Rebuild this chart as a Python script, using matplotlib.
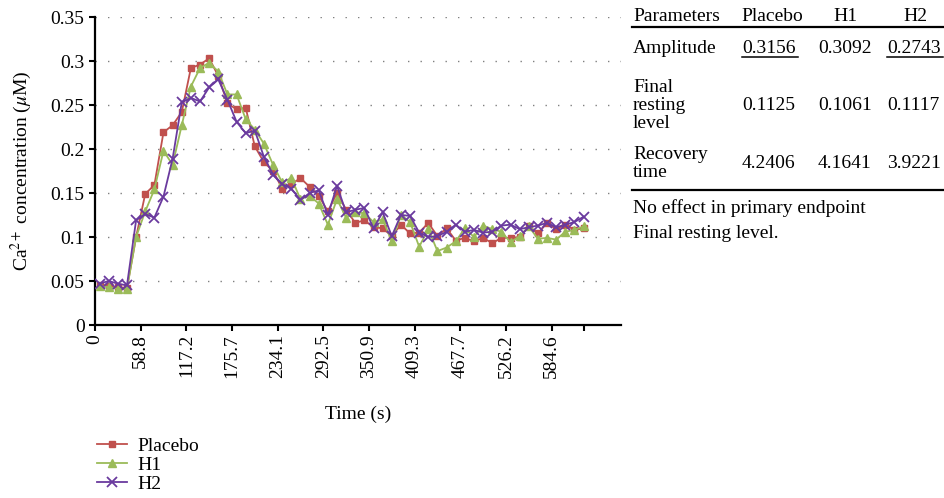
import numpy as np
import matplotlib
matplotlib.use("Agg")
import matplotlib.pyplot as plt
from matplotlib.lines import Line2D

plt.rcParams['font.family'] = ['Liberation Serif', 'DejaVu Serif']
plt.rcParams['mathtext.fontset'] = 'stix'

# ---------------- data ----------------
placebo = [0.046, 0.044, 0.043, 0.042, 0.100, 0.149, 0.159, 0.219, 0.227, 0.242,
           0.292, 0.296, 0.303, 0.283, 0.252, 0.245, 0.247, 0.203, 0.185, 0.175,
           0.155, 0.160, 0.167, 0.157, 0.147, 0.129, 0.150, 0.131, 0.116, 0.119,
           0.111, 0.110, 0.101, 0.114, 0.104, 0.105, 0.116, 0.101, 0.110, 0.096,
           0.099, 0.095, 0.099, 0.093, 0.099, 0.099, 0.100, 0.112, 0.104, 0.116,
           0.109, 0.114, 0.108, 0.110]
h1 = [0.044, 0.043, 0.041, 0.041, 0.100, 0.129, 0.154, 0.198, 0.182, 0.227,
      0.271, 0.292, 0.298, 0.288, 0.262, 0.262, 0.234, 0.222, 0.206, 0.182,
      0.162, 0.167, 0.143, 0.147, 0.138, 0.114, 0.143, 0.122, 0.128, 0.127,
      0.117, 0.120, 0.095, 0.125, 0.117, 0.089, 0.109, 0.084, 0.088, 0.095,
      0.110, 0.100, 0.113, 0.109, 0.106, 0.094, 0.101, 0.112, 0.098, 0.099,
      0.097, 0.106, 0.108, 0.112]
h2 = [0.047, 0.050, 0.047, 0.045, 0.119, 0.126, 0.122, 0.146, 0.189, 0.253,
      0.258, 0.254, 0.270, 0.279, 0.256, 0.231, 0.218, 0.221, 0.191, 0.171,
      0.160, 0.155, 0.142, 0.150, 0.153, 0.125, 0.158, 0.128, 0.131, 0.133,
      0.110, 0.128, 0.101, 0.125, 0.124, 0.105, 0.100, 0.101, 0.106, 0.114,
      0.106, 0.108, 0.105, 0.106, 0.113, 0.114, 0.109, 0.111, 0.113, 0.116,
      0.111, 0.114, 0.117, 0.123]
time_labels = ["0", "58.8", "117.2", "175.7", "234.1", "292.5", "350.9",
               "409.3", "467.7", "526.2", "584.6"]
series_names = ["Placebo", "H1", "H2"]
colors = ["#C0504D", "#9BBB59", "#6A3A9E"]

table_header = ["Parameters", "Placebo", "H1", "H2"]
amplitude = ["0.3156", "0.3092", "0.2743"]
final_rest = ["0.1125", "0.1061", "0.1117"]
recovery = ["4.2406", "4.1641", "3.9221"]
note_lines = ["No effect in primary endpoint", "Final resting level."]

# ---------------- figure ----------------
W, H = 945, 498
fig = plt.figure(figsize=(W / 100, H / 100), dpi=100)
FS = 14

def fx(x):
    return x / W

def fy(y):
    return 1 - y / H

ax = fig.add_axes([fx(95), fy(325), (621 - 95) / W, (325 - 17) / H])

idx = np.arange(len(placebo))
ax.plot(idx, placebo, color=colors[0], lw=1.3, marker='s', ms=4.0,
        mec=colors[0], mfc=colors[0], label=series_names[0], zorder=3)
ax.plot(idx, h1, color=colors[1], lw=1.3, marker='^', ms=6.2,
        mec=colors[1], mfc=colors[1], label=series_names[1], zorder=4)
ax.plot(idx, h2, color=colors[2], lw=1.3, marker='x', ms=6.5, mew=1.3,
        label=series_names[2], zorder=5)

ax.set_xlim(-0.5, 57.1)
ax.set_ylim(0, 0.35)
ax.set_yticks(np.arange(0, 0.351, 0.05))
ax.set_yticklabels(["0", "0.05", "0.1", "0.15", "0.2", "0.25", "0.3", "0.35"])
ticks = [5 * k - 0.5 for k in range(len(time_labels))]
ax.set_xticks(ticks)
ax.set_xticklabels(time_labels, rotation=90)
ax.set_xticks([len(placebo) - 1], minor=True)
ax.tick_params(axis='x', which='minor', length=4.5, width=1.5, direction='out')

for y in np.arange(0.05, 0.351, 0.05):
    ax.axhline(y, color='#808080', lw=1.0, ls=(0, (1, 8)), zorder=1)

for s in ['top', 'right']:
    ax.spines[s].set_visible(False)
for s in ['left', 'bottom']:
    ax.spines[s].set_linewidth(1.6)
ax.tick_params(axis='both', which='major', length=4.5, width=1.5,
               direction='out', labelsize=FS, pad=3)
ax.tick_params(axis='x', pad=2)

ax.set_xlabel("Time (s)", fontsize=FS, labelpad=20)
ax.set_ylabel("Ca$^{2+}$ concentration ($\\mu$M)", fontsize=FS, labelpad=12)

fig.legend(loc='upper left', bbox_to_anchor=(fx(97), fy(437)), frameon=False,
           fontsize=FS, handlelength=1.55, handletextpad=0.55,
           labelspacing=0.07, borderpad=0, borderaxespad=0)

# ---------------- table ----------------
col_c = [772, 845.5, 915]
col_l = [742, 818, 887]
fig.text(fx(633), fy(21), table_header[0], fontsize=FS, ha='left', va='baseline')
for c, t in zip(col_c, table_header[1:]):
    fig.text(fx(c), fy(21), t, fontsize=FS, ha='center', va='baseline')
fig.add_artist(Line2D([fx(632), fx(945)], [fy(27.5), fy(27.5)], color='black', lw=1.6))

fig.text(fx(633), fy(53), "Amplitude", fontsize=FS, ha='left', va='baseline')
for c, t in zip(col_l, amplitude):
    fig.text(fx(c), fy(53), t, fontsize=FS, ha='left', va='baseline')
for i in (0, 2):
    fig.add_artist(Line2D([fx(col_l[i]), fx(col_l[i] + 56)], [fy(57.5), fy(57.5)],
                          color='black', lw=1.1))

for yy, t in zip([91.5, 109.5, 127.5], ["Final", "resting", "level"]):
    fig.text(fx(633), fy(yy), t, fontsize=FS, ha='left', va='baseline')
for c, t in zip(col_l, final_rest):
    fig.text(fx(c), fy(109.5), t, fontsize=FS, ha='left', va='baseline')

for yy, t in zip([159, 177], ["Recovery", "time"]):
    fig.text(fx(633), fy(yy), t, fontsize=FS, ha='left', va='baseline')
for c, t in zip(col_l, recovery):
    fig.text(fx(c), fy(168), t, fontsize=FS, ha='left', va='baseline')
fig.add_artist(Line2D([fx(632), fx(945)], [fy(190), fy(190)], color='black', lw=1.6))

for yy, t in zip([213, 238], note_lines):
    fig.text(fx(633), fy(yy), t, fontsize=FS, ha='left', va='baseline')

fig.savefig("out.png", dpi=100)
